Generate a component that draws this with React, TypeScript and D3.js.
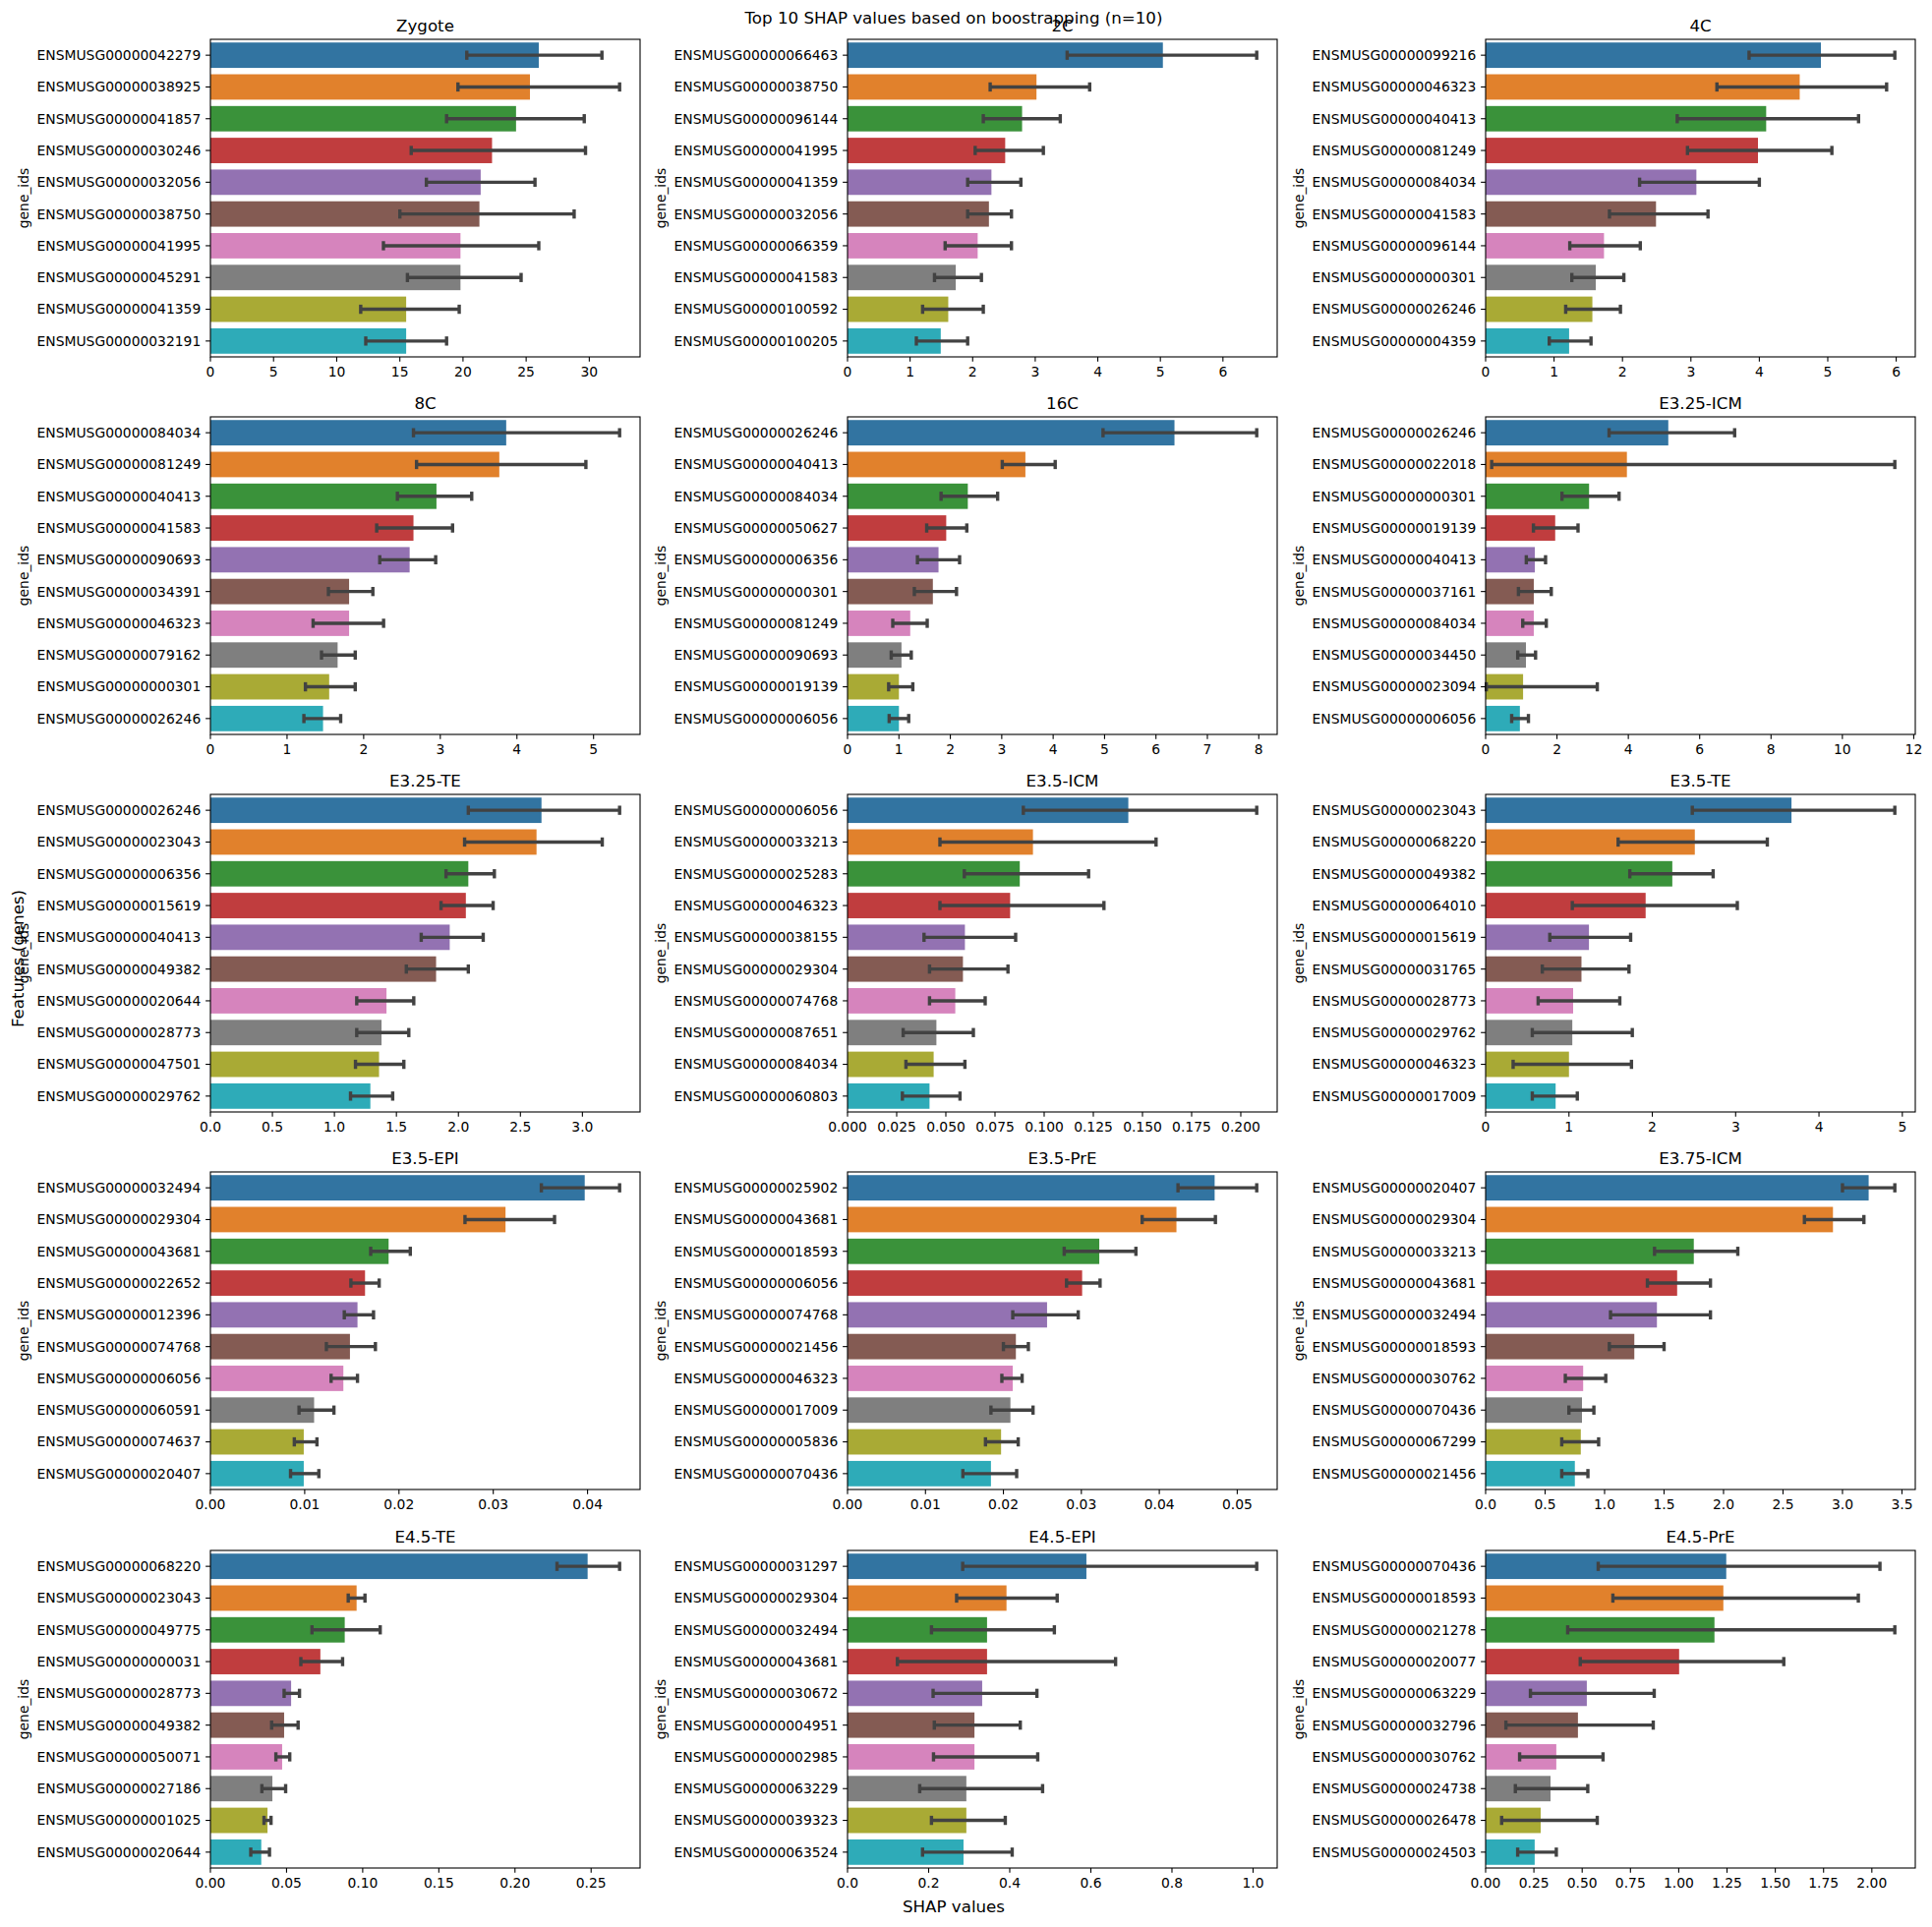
import React from 'react';
import * as d3 from 'd3';

// Developmental stages, one subplot each (read row by row, 3 per row)
const stages = [
  'Zygote', '2C', '4C',
  '8C', '16C', 'E3.25-ICM',
  'E3.25-TE', 'E3.5-ICM', 'E3.5-TE',
  'E3.5-EPI', 'E3.5-PrE', 'E3.75-ICM',
  'E4.5-TE', 'E4.5-EPI', 'E4.5-PrE',
];

const geneIds = [
  ['ENSMUSG00000042279', 'ENSMUSG00000038925', 'ENSMUSG00000041857', 'ENSMUSG00000030246', 'ENSMUSG00000032056', 'ENSMUSG00000038750', 'ENSMUSG00000041995', 'ENSMUSG00000045291', 'ENSMUSG00000041359', 'ENSMUSG00000032191'],
  ['ENSMUSG00000066463', 'ENSMUSG00000038750', 'ENSMUSG00000096144', 'ENSMUSG00000041995', 'ENSMUSG00000041359', 'ENSMUSG00000032056', 'ENSMUSG00000066359', 'ENSMUSG00000041583', 'ENSMUSG00000100592', 'ENSMUSG00000100205'],
  ['ENSMUSG00000099216', 'ENSMUSG00000046323', 'ENSMUSG00000040413', 'ENSMUSG00000081249', 'ENSMUSG00000084034', 'ENSMUSG00000041583', 'ENSMUSG00000096144', 'ENSMUSG00000000301', 'ENSMUSG00000026246', 'ENSMUSG00000004359'],
  ['ENSMUSG00000084034', 'ENSMUSG00000081249', 'ENSMUSG00000040413', 'ENSMUSG00000041583', 'ENSMUSG00000090693', 'ENSMUSG00000034391', 'ENSMUSG00000046323', 'ENSMUSG00000079162', 'ENSMUSG00000000301', 'ENSMUSG00000026246'],
  ['ENSMUSG00000026246', 'ENSMUSG00000040413', 'ENSMUSG00000084034', 'ENSMUSG00000050627', 'ENSMUSG00000006356', 'ENSMUSG00000000301', 'ENSMUSG00000081249', 'ENSMUSG00000090693', 'ENSMUSG00000019139', 'ENSMUSG00000006056'],
  ['ENSMUSG00000026246', 'ENSMUSG00000022018', 'ENSMUSG00000000301', 'ENSMUSG00000019139', 'ENSMUSG00000040413', 'ENSMUSG00000037161', 'ENSMUSG00000084034', 'ENSMUSG00000034450', 'ENSMUSG00000023094', 'ENSMUSG00000006056'],
  ['ENSMUSG00000026246', 'ENSMUSG00000023043', 'ENSMUSG00000006356', 'ENSMUSG00000015619', 'ENSMUSG00000040413', 'ENSMUSG00000049382', 'ENSMUSG00000020644', 'ENSMUSG00000028773', 'ENSMUSG00000047501', 'ENSMUSG00000029762'],
  ['ENSMUSG00000006056', 'ENSMUSG00000033213', 'ENSMUSG00000025283', 'ENSMUSG00000046323', 'ENSMUSG00000038155', 'ENSMUSG00000029304', 'ENSMUSG00000074768', 'ENSMUSG00000087651', 'ENSMUSG00000084034', 'ENSMUSG00000060803'],
  ['ENSMUSG00000023043', 'ENSMUSG00000068220', 'ENSMUSG00000049382', 'ENSMUSG00000064010', 'ENSMUSG00000015619', 'ENSMUSG00000031765', 'ENSMUSG00000028773', 'ENSMUSG00000029762', 'ENSMUSG00000046323', 'ENSMUSG00000017009'],
  ['ENSMUSG00000032494', 'ENSMUSG00000029304', 'ENSMUSG00000043681', 'ENSMUSG00000022652', 'ENSMUSG00000012396', 'ENSMUSG00000074768', 'ENSMUSG00000006056', 'ENSMUSG00000060591', 'ENSMUSG00000074637', 'ENSMUSG00000020407'],
  ['ENSMUSG00000025902', 'ENSMUSG00000043681', 'ENSMUSG00000018593', 'ENSMUSG00000006056', 'ENSMUSG00000074768', 'ENSMUSG00000021456', 'ENSMUSG00000046323', 'ENSMUSG00000017009', 'ENSMUSG00000005836', 'ENSMUSG00000070436'],
  ['ENSMUSG00000020407', 'ENSMUSG00000029304', 'ENSMUSG00000033213', 'ENSMUSG00000043681', 'ENSMUSG00000032494', 'ENSMUSG00000018593', 'ENSMUSG00000030762', 'ENSMUSG00000070436', 'ENSMUSG00000067299', 'ENSMUSG00000021456'],
  ['ENSMUSG00000068220', 'ENSMUSG00000023043', 'ENSMUSG00000049775', 'ENSMUSG00000000031', 'ENSMUSG00000028773', 'ENSMUSG00000049382', 'ENSMUSG00000050071', 'ENSMUSG00000027186', 'ENSMUSG00000001025', 'ENSMUSG00000020644'],
  ['ENSMUSG00000031297', 'ENSMUSG00000029304', 'ENSMUSG00000032494', 'ENSMUSG00000043681', 'ENSMUSG00000030672', 'ENSMUSG00000004951', 'ENSMUSG00000002985', 'ENSMUSG00000063229', 'ENSMUSG00000039323', 'ENSMUSG00000063524'],
  ['ENSMUSG00000070436', 'ENSMUSG00000018593', 'ENSMUSG00000021278', 'ENSMUSG00000020077', 'ENSMUSG00000063229', 'ENSMUSG00000032796', 'ENSMUSG00000030762', 'ENSMUSG00000024738', 'ENSMUSG00000026478', 'ENSMUSG00000024503'],
];

// mean |SHAP| over the bootstrap runs
const shapMean = [
  [26.0, 25.3, 24.2, 22.3, 21.4, 21.3, 19.8, 19.8, 15.5, 15.5],
  [5.04, 3.02, 2.79, 2.52, 2.30, 2.26, 2.08, 1.73, 1.61, 1.49],
  [4.90, 4.59, 4.10, 3.98, 3.08, 2.49, 1.73, 1.61, 1.56, 1.22],
  [3.86, 3.77, 2.95, 2.65, 2.60, 1.81, 1.81, 1.66, 1.55, 1.47],
  [6.36, 3.46, 2.34, 1.92, 1.77, 1.66, 1.22, 1.05, 1.00, 1.00],
  [5.12, 3.96, 2.90, 1.95, 1.38, 1.35, 1.35, 1.13, 1.05, 0.96],
  [2.67, 2.63, 2.08, 2.06, 1.93, 1.82, 1.42, 1.38, 1.36, 1.29],
  [0.1428, 0.0943, 0.0876, 0.0827, 0.0597, 0.0587, 0.0548, 0.0452, 0.0438, 0.0417],
  [3.67, 2.51, 2.24, 1.92, 1.24, 1.15, 1.05, 1.04, 1.00, 0.84],
  [0.0397, 0.0313, 0.0189, 0.0164, 0.0156, 0.0148, 0.0141, 0.0110, 0.0099, 0.0099],
  [0.0471, 0.0422, 0.0323, 0.0301, 0.0256, 0.0216, 0.0212, 0.0209, 0.0197, 0.0184],
  [3.22, 2.92, 1.75, 1.61, 1.44, 1.25, 0.82, 0.81, 0.80, 0.75],
  [0.2477, 0.0960, 0.0882, 0.0722, 0.0530, 0.0484, 0.0471, 0.0407, 0.0375, 0.0334],
  [0.589, 0.392, 0.344, 0.344, 0.332, 0.313, 0.313, 0.293, 0.293, 0.286],
  [1.246, 1.231, 1.185, 1.002, 0.524, 0.478, 0.366, 0.336, 0.285, 0.254],
];

// bootstrap confidence interval, lower bound
const ciLow = [
  [20.3, 19.6, 18.7, 15.9, 17.1, 15.0, 13.7, 15.6, 11.9, 12.3],
  [3.51, 2.28, 2.17, 2.04, 1.92, 1.92, 1.56, 1.39, 1.20, 1.10],
  [3.85, 3.38, 2.80, 2.95, 2.25, 1.81, 1.23, 1.26, 1.17, 0.93],
  [2.65, 2.69, 2.44, 2.17, 2.21, 1.54, 1.34, 1.45, 1.24, 1.22],
  [4.97, 3.01, 1.82, 1.54, 1.36, 1.30, 0.88, 0.85, 0.80, 0.81],
  [3.46, 0.17, 2.14, 1.34, 1.14, 0.92, 1.04, 0.90, 0.02, 0.73],
  [2.08, 2.05, 1.90, 1.86, 1.70, 1.58, 1.18, 1.18, 1.17, 1.13],
  [0.0894, 0.0470, 0.0594, 0.0470, 0.0389, 0.0417, 0.0417, 0.0283, 0.0297, 0.0279],
  [2.48, 1.59, 1.73, 1.04, 0.77, 0.68, 0.63, 0.56, 0.33, 0.56],
  [0.0351, 0.0270, 0.0170, 0.0149, 0.0142, 0.0123, 0.0128, 0.0094, 0.0089, 0.0085],
  [0.0424, 0.0378, 0.0278, 0.0281, 0.0212, 0.0200, 0.0198, 0.0184, 0.0177, 0.0148],
  [3.00, 2.68, 1.42, 1.36, 1.05, 1.04, 0.67, 0.70, 0.64, 0.64],
  [0.2276, 0.0905, 0.0667, 0.0594, 0.0484, 0.0402, 0.0430, 0.0338, 0.0352, 0.0265],
  [0.284, 0.269, 0.207, 0.123, 0.211, 0.214, 0.212, 0.178, 0.207, 0.185],
  [0.583, 0.659, 0.425, 0.490, 0.232, 0.105, 0.176, 0.154, 0.083, 0.166],
];

// bootstrap confidence interval, upper bound
const ciHigh = [
  [31.0, 32.4, 29.6, 29.7, 25.7, 28.8, 26.0, 24.6, 19.7, 18.7],
  [6.54, 3.87, 3.40, 3.13, 2.77, 2.62, 2.62, 2.14, 2.17, 1.92],
  [5.98, 5.86, 5.45, 5.06, 4.00, 3.25, 2.26, 2.02, 1.97, 1.54],
  [5.34, 4.90, 3.41, 3.16, 2.94, 2.12, 2.26, 1.89, 1.89, 1.70],
  [7.96, 4.04, 2.92, 2.32, 2.18, 2.12, 1.55, 1.24, 1.27, 1.19],
  [6.98, 11.47, 3.74, 2.59, 1.68, 1.84, 1.70, 1.40, 3.13, 1.20],
  [3.30, 3.16, 2.29, 2.28, 2.20, 2.08, 1.64, 1.60, 1.56, 1.47],
  [0.2081, 0.1569, 0.1226, 0.1304, 0.0855, 0.0816, 0.0700, 0.0640, 0.0597, 0.0572],
  [4.91, 3.38, 2.73, 3.02, 1.74, 1.72, 1.61, 1.76, 1.75, 1.10],
  [0.0434, 0.0365, 0.0212, 0.0179, 0.0173, 0.0175, 0.0156, 0.0131, 0.0113, 0.0115],
  [0.0525, 0.0472, 0.0370, 0.0324, 0.0296, 0.0232, 0.0224, 0.0238, 0.0219, 0.0217],
  [3.44, 3.18, 2.12, 1.89, 1.89, 1.50, 1.01, 0.91, 0.95, 0.86],
  [0.2687, 0.1015, 0.1115, 0.0868, 0.0585, 0.0576, 0.0521, 0.0494, 0.0398, 0.0388],
  [1.009, 0.517, 0.510, 0.661, 0.467, 0.426, 0.469, 0.481, 0.389, 0.406],
  [2.042, 1.930, 2.119, 1.544, 0.873, 0.868, 0.608, 0.529, 0.578, 0.366],
];

const xTickLabels = [
  ['0', '5', '10', '15', '20', '25', '30'],
  ['0', '1', '2', '3', '4', '5', '6'],
  ['0', '1', '2', '3', '4', '5', '6'],
  ['0', '1', '2', '3', '4', '5'],
  ['0', '1', '2', '3', '4', '5', '6', '7', '8'],
  ['0', '2', '4', '6', '8', '10', '12'],
  ['0.0', '0.5', '1.0', '1.5', '2.0', '2.5', '3.0'],
  ['0.000', '0.025', '0.050', '0.075', '0.100', '0.125', '0.150', '0.175', '0.200'],
  ['0', '1', '2', '3', '4', '5'],
  ['0.00', '0.01', '0.02', '0.03', '0.04'],
  ['0.00', '0.01', '0.02', '0.03', '0.04', '0.05'],
  ['0.0', '0.5', '1.0', '1.5', '2.0', '2.5', '3.0', '3.5'],
  ['0.00', '0.05', '0.10', '0.15', '0.20', '0.25'],
  ['0.0', '0.2', '0.4', '0.6', '0.8', '1.0'],
  ['0.00', '0.25', '0.50', '0.75', '1.00', '1.25', '1.50', '1.75', '2.00'],
];

// tab10 at seaborn's 0.75 saturation
const palette = ['#3274a1', '#e1812c', '#3a923a', '#c03d3e', '#9372b2', '#845b53', '#d684bd', '#7f7f7f', '#a9aa35', '#2eabb8'];

const W = 1965;
const H = 1960;
const FONT = '"DejaVu Sans", sans-serif';
const PT = 100 / 72;
const axW = 437;
const axH = 323;
const colX = [214, 862, 1511];
const rowY = [40, 424, 808, 1192, 1577];
const tickLen = 3.5 * PT;
const tickPad = 3.5 * PT;
const tickFont = 10 * PT;
const titleFont = 12 * PT;
const errColor = '#424242';

const Panel = ({ i }: { i: number }) => {
  const left = colX[i % 3];
  const top = rowY[Math.floor(i / 3)];
  const genes = geneIds[i];
  const idx = d3.range(genes.length);

  const x = d3.scaleLinear()
    .domain([0, (d3.max(ciHigh[i]) as number) * 1.05])
    .range([left, left + axW]);
  const y = d3.scaleBand<number>()
    .domain(idx)
    .range([top, top + axH])
    .paddingInner(0.2)
    .paddingOuter(0.1);
  const step = y.step();
  const cap = step * 0.145;
  const ticks = xTickLabels[i];

  return (
    <g>
      <text x={left + axW / 2} y={top - 6 * PT} textAnchor="middle" fontSize={titleFont}>{stages[i]}</text>
      {idx.map(k => (
        <rect key={`b${k}`} x={x(0)} y={y(k)} width={x(shapMean[i][k]) - x(0)} height={y.bandwidth()} fill={palette[k]} />
      ))}
      {idx.map(k => {
        const cy = (y(k) as number) + y.bandwidth() / 2;
        return (
          <g key={`e${k}`} stroke={errColor} strokeWidth={3.4}>
            <line x1={x(ciLow[i][k])} x2={x(ciHigh[i][k])} y1={cy} y2={cy} />
            <line x1={x(ciLow[i][k])} x2={x(ciLow[i][k])} y1={cy - cap} y2={cy + cap} />
            <line x1={x(ciHigh[i][k])} x2={x(ciHigh[i][k])} y1={cy - cap} y2={cy + cap} />
          </g>
        );
      })}
      <rect x={left} y={top} width={axW} height={axH} fill="none" stroke="#000" strokeWidth={1.1} />
      {idx.map(k => {
        const cy = (y(k) as number) + y.bandwidth() / 2;
        return (
          <g key={`y${k}`}>
            <line x1={left - tickLen} x2={left} y1={cy} y2={cy} stroke="#000" strokeWidth={1.1} />
            <text x={left - tickLen - tickPad} y={cy} dy="0.35em" textAnchor="end" fontSize={tickFont}>{genes[k]}</text>
          </g>
        );
      })}
      {ticks.map(t => {
        const tx = x(+t);
        return (
          <g key={`x${t}`}>
            <line x1={tx} x2={tx} y1={top + axH} y2={top + axH + tickLen} stroke="#000" strokeWidth={1.1} />
            <text x={tx} y={top + axH + tickLen + tickPad + tickFont * 0.76} textAnchor="middle" fontSize={tickFont}>{t}</text>
          </g>
        );
      })}
      <text transform={`translate(${left - 185},${top + axH / 2}) rotate(-90)`} textAnchor="middle" fontSize={tickFont}>gene_ids</text>
    </g>
  );
};

const App = () => (
  <svg width={W} height={H} style={{ position: 'absolute', left: 0, top: 0, background: '#fff' }} fontFamily={FONT} fill="#000">
    <rect width={W} height={H} fill="#fff" />
    {stages.map((s, i) => <Panel key={s} i={i} />)}
    <text x={970} y={24} textAnchor="middle" fontSize={titleFont}>Top 10 SHAP values based on boostrapping (n=10)</text>
    <text x={970} y={1945} textAnchor="middle" fontSize={titleFont}>SHAP values</text>
    <text transform={`translate(24,975) rotate(-90)`} textAnchor="middle" fontSize={titleFont}>Features (genes)</text>
  </svg>
);

export default App;
